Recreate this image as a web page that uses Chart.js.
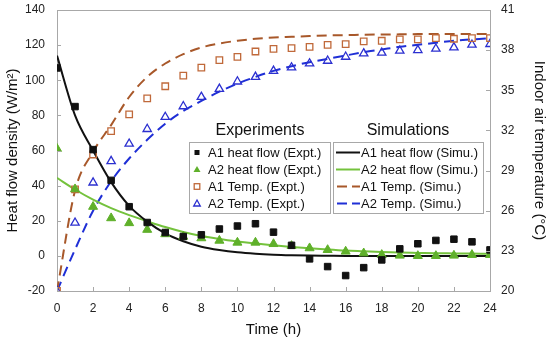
<!DOCTYPE html>
<html><head><meta charset="utf-8">
<script src="https://cdn.jsdelivr.net/npm/chart.js@4"></script>
<style>html,body{margin:0;padding:0;background:#fff}#wrap{width:550px;height:344px;position:relative}</style>
</head><body><div id="wrap"><canvas id="c"></canvas></div>
<script>
// ---- data ----
const hours = [0,1,2,3,4,5,6,7,8,9,10,11,12,13,14,15,16,17,18,19,20,21,22,23,24];
const a1HeatExpt = [107,85,60.5,43,28,19,13.3,11,12,15.3,17,18.3,13.5,6,-1.7,-6.1,-11.2,-6.7,-2.3,4,6.9,8.8,9.5,8,3.4];
const a2HeatExpt = [61,38,28,21.5,18.7,14.9,12.4,11,10.1,8.7,7.6,7.6,6.8,5.7,4.4,3.4,2.5,1.5,0.6,0.2,0,0,0.2,0.6,0.6];
const a1TempExpt = [20,27.6,30.2,31.95,33.2,34.4,35.3,36.1,36.7,37.25,37.5,37.9,38.1,38.15,38.25,38.4,38.45,38.65,38.7,38.8,38.8,38.9,38.85,38.9,38.9];
const a2TempExpt = [20,25.1,28.1,29.7,31.0,32.1,33.0,33.8,34.5,35.1,35.65,36.0,36.45,36.7,37.0,37.2,37.5,37.75,37.8,37.95,38.0,38.1,38.2,38.4,38.45];
const a1HeatSimu = [114,80,60,42,28.5,19.5,12.8,8.3,5.2,3.3,2,1.2,0.7,0.4,0.2,0.1,0,0,0,0,0,0,0,0,0];
const a2HeatSimu = [44.4,37.8,32,27.2,23.2,19.7,16.4,13.6,11.3,9.6,8.2,7,6,5.1,4.3,3.6,3,2.6,2.2,1.9,1.7,1.5,1.4,1.3,1.2];
const a1TempSimu = [20,27.5,30.4,32.4,34.5,36,37,37.7,38.2,38.5,38.7,38.85,38.95,39.0,39.05,39.1,39.12,39.15,39.17,39.18,39.2,39.2,39.2,39.2,39.2];
const a2TempSimu = [20,23.1,26,28.2,29.9,31.3,32.5,33.45,34.2,34.9,35.5,36.0,36.45,36.8,37.1,37.35,37.6,37.85,38.05,38.25,38.4,38.55,38.7,38.8,38.9];
const expLabels = ['A1 heat flow (Expt.)','A2 heat flow (Expt.)','A1 Temp. (Expt.)','A2 Temp. (Expt.)'];
const simLabels = ['A1 heat flow (Simu.)','A2 heat flow (Simu.)','A1 Temp. (Simu.)','A2 Temp. (Simu.)'];
const xTickRange = {min:0,max:24,step:2};
const heatTickRange = {min:-20,max:140,step:20};
const tempTickRange = {min:20,max:41,step:3};

const FONT = '"Liberation Sans", Arial, sans-serif';
const C = {black:'#111111', green:'#5fb02a', greenLine:'#74c23c', brown:'#c0693a', brownLine:'#a8582a', blue:'#2b2fd0', blueLine:'#1f2fd6', axis:'#a8a8a8'};

const pts = arr => arr.map((v,i)=>({x:hours[i],y:v}));

const frameTicks = {
  id:'frameTicks',
  afterDraw(chart){
    const {ctx, chartArea:a, scales} = chart;
    ctx.save();
    ctx.strokeStyle = C.axis; ctx.lineWidth = 1;
    ctx.beginPath();
    ctx.moveTo(a.left, a.top+0.5); ctx.lineTo(a.right, a.top+0.5);
    const L = 4;
    scales.x.ticks.forEach(t=>{const p=Math.round(scales.x.getPixelForValue(t.value))+0.5; ctx.moveTo(p,a.bottom); ctx.lineTo(p,a.bottom-L);});
    scales.y.ticks.forEach(t=>{const p=Math.round(scales.y.getPixelForValue(t.value))+0.5; ctx.moveTo(a.left,p); ctx.lineTo(a.left+L,p);});
    scales.y1.ticks.forEach(t=>{const p=Math.round(scales.y1.getPixelForValue(t.value))+0.5; ctx.moveTo(a.right,p); ctx.lineTo(a.right-L,p);});
    ctx.stroke();
    ctx.restore();
  }
};

const legendBoxes = {
  id:'legendBoxes',
  afterDraw(chart){
    const ctx = chart.ctx;
    ctx.save();
    ctx.fillStyle = '#fff';
    ctx.fillRect(189,142,141,71); ctx.fillRect(333,142,150,71);
    ctx.strokeStyle = C.axis; ctx.lineWidth = 1;
    ctx.strokeRect(189.5,142.5,141,71); ctx.strokeRect(333.5,142.5,150,71);
    ctx.fillStyle = '#111'; ctx.textAlign='center'; ctx.textBaseline='middle';
    ctx.font = '16px ' + FONT;
    ctx.fillText('Experiments',260,131);
    ctx.fillText('Simulations',408,131);
    ctx.font = '13px ' + FONT; ctx.textAlign='left';
    const rows = [152.5,169.5,186.5,203.5];
    const sx = 197;
    ctx.fillStyle = C.black; ctx.fillRect(sx-2.5,rows[0]-2.5,5,5);
    ctx.fillStyle = C.green; ctx.beginPath(); ctx.moveTo(sx,rows[1]-3.5); ctx.lineTo(sx+3.5,rows[1]+2.5); ctx.lineTo(sx-3.5,rows[1]+2.5); ctx.closePath(); ctx.fill();
    ctx.strokeStyle = C.brown; ctx.lineWidth=1.3; ctx.strokeRect(sx-2.8,rows[2]-2.8,5.6,5.6);
    ctx.strokeStyle = C.blue; ctx.beginPath(); ctx.moveTo(sx,rows[3]-3.5); ctx.lineTo(sx+3.3,rows[3]+2.5); ctx.lineTo(sx-3.3,rows[3]+2.5); ctx.closePath(); ctx.stroke();
    ctx.fillStyle = '#111';
    expLabels.forEach((l,i)=>ctx.fillText(l,208,rows[i]+0.5));
    ctx.lineWidth = 2;
    const lx0=336, lx1=360;
    ctx.strokeStyle = C.black; ctx.beginPath(); ctx.moveTo(lx0,rows[0]); ctx.lineTo(lx1,rows[0]); ctx.stroke();
    ctx.strokeStyle = C.greenLine; ctx.beginPath(); ctx.moveTo(lx0,rows[1]); ctx.lineTo(lx1,rows[1]); ctx.stroke();
    ctx.setLineDash([10,5]);
    ctx.strokeStyle = C.brownLine; ctx.beginPath(); ctx.moveTo(lx0+1,rows[2]); ctx.lineTo(lx1,rows[2]); ctx.stroke();
    ctx.strokeStyle = C.blueLine; ctx.beginPath(); ctx.moveTo(lx0+1,rows[3]); ctx.lineTo(lx1,rows[3]); ctx.stroke();
    ctx.setLineDash([]);
    simLabels.forEach((l,i)=>ctx.fillText(l,361,rows[i]+0.5));
    ctx.restore();
  }
};

const simLine = (label,data,color,axis,dash)=>({label,data:pts(data),yAxisID:axis,borderColor:color,borderWidth:2,borderDash:dash||[],pointRadius:0,fill:false,cubicInterpolationMode:'monotone',showLine:true});
const expPts = (label,data,axis,style,r,fillC,borderC,bw)=>({label,data:pts(data),yAxisID:axis,showLine:false,pointStyle:style,pointRadius:r,pointHoverRadius:r,backgroundColor:fillC,borderColor:borderC,pointBorderWidth:bw});

const fitY = w => function(s){ s.width = w; s.paddingTop = 0; s.paddingBottom = 0; };

new Chart(document.getElementById('c'),{
  type:'line',
  data:{datasets:[
    expPts(expLabels[0],a1HeatExpt,'y','rect',4.6,C.black,C.black,1),
    expPts(expLabels[1],a2HeatExpt,'y','triangle',5.2,C.green,C.green,1),
    expPts(expLabels[2],a1TempExpt,'y1','rect',4.6,'rgba(0,0,0,0)',C.brown,1.3),
    expPts(expLabels[3],a2TempExpt,'y1','triangle',4.8,'rgba(0,0,0,0)',C.blue,1.3),
    simLine(simLabels[0],a1HeatSimu,C.black,'y'),
    simLine(simLabels[1],a2HeatSimu,C.greenLine,'y'),
    simLine(simLabels[2],a1TempSimu,C.brownLine,'y1',[10,6]),
    simLine(simLabels[3],a2TempSimu,C.blueLine,'y1',[10,6])
  ]},
  options:{
    responsive:true, maintainAspectRatio:false, animation:false,
    layout:{padding:{top:10,left:0,right:0,bottom:0}},
    plugins:{legend:{display:false},tooltip:{enabled:false}},
    scales:{
      x:{type:'linear',min:xTickRange.min,max:xTickRange.max,
        ticks:{stepSize:xTickRange.step,padding:10,color:'#222',font:{family:FONT,size:12}},
        grid:{display:false,drawTicks:false},border:{display:true,color:C.axis},
        title:{display:true,text:'Time (h)',color:'#111',font:{family:FONT,size:15},padding:{top:0,bottom:5}},
        afterFit(s){s.height=53; s.paddingLeft=0; s.paddingRight=0;}},
      y:{type:'linear',position:'left',min:heatTickRange.min,max:heatTickRange.max,
        ticks:{stepSize:heatTickRange.step,padding:12,color:'#222',font:{family:FONT,size:12}},
        grid:{display:false,drawTicks:false},border:{display:true,color:C.axis},
        title:{display:true,text:'Heat flow density (W/m²)',color:'#111',font:{family:FONT,size:15},padding:{top:4,bottom:0}},
        afterFit:fitY(57)},
      y1:{type:'linear',position:'right',min:tempTickRange.min,max:tempTickRange.max,
        ticks:{stepSize:tempTickRange.step,padding:11,color:'#222',font:{family:FONT,size:12}},
        grid:{display:false,drawTicks:false},border:{display:true,color:C.axis},
        title:{display:true,text:'Indoor air temperature (°C)',color:'#111',font:{family:FONT,size:15},padding:{top:2,bottom:0}},
        afterFit:fitY(60)}
    }
  },
  plugins:[frameTicks,legendBoxes]
});
</script>
</body></html>
